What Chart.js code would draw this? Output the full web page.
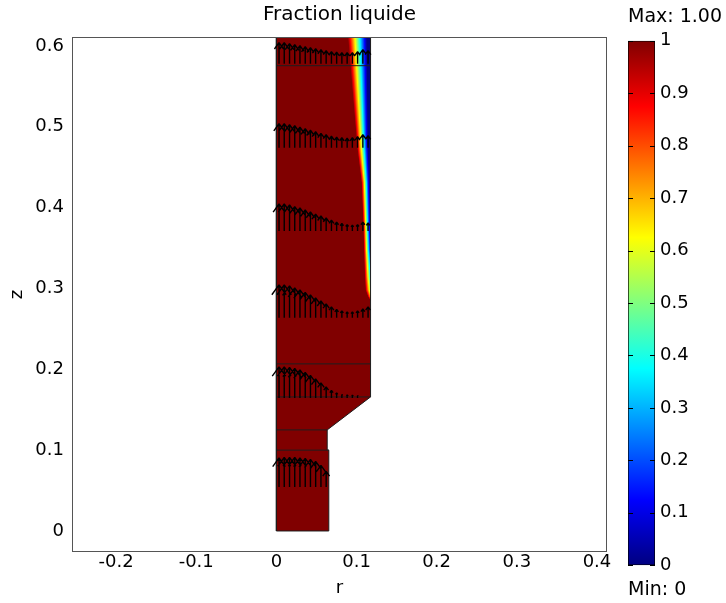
<!DOCTYPE html>
<html>
<head>
<meta charset="utf-8">
<script src="https://cdn.jsdelivr.net/npm/chart.js@4/dist/chart.umd.min.js"></script>
<style>
  html, body { margin: 0; padding: 0; background: #fff; }
  #wrap { position: relative; width: 726px; height: 603px; }
  #plot { position: absolute; left: 0; top: 0; }
  #bar { position: absolute; left: 600px; top: 0; }
</style>
</head>
<body>
<div id="wrap">
  <canvas id="plot" width="726" height="603"></canvas>
  <canvas id="bar" width="126" height="603"></canvas>
</div>
<script>
// axis ticks
const xTicks = [-0.2, -0.1, 0, 0.1, 0.2, 0.3, 0.4];
const zTicks = [0, 0.1, 0.2, 0.3, 0.4, 0.5, 0.6];
const colorTicks = [0, 0.1, 0.2, 0.3, 0.4, 0.5, 0.6, 0.7, 0.8, 0.9, 1];

// domain outline (r, z), from top of axis down and round to the wall
const domainR = [0, 0, 0.0654, 0.0654, 0.0634, 0.0634, 0.1175, 0.1175];
const domainZ = [0.63, 0, 0, 0.1, 0.1, 0.125, 0.1658, 0.63];

// inner boundaries: height and right end
const boundaryZ = [0.1, 0.125, 0.1658, 0.2067, 0.5755];
const boundaryR = [0.0654, 0.0634, 0.1175, 0.1175, 0.1175];

// mushy zone near the wall: fraction 1 at liquidR, 0 at solidR
const frontZ = [0.63, 0.611, 0.475, 0.431, 0.381, 0.348, 0.314, 0.298, 0.29, 0.284];
const liquidR = [0.088, 0.089, 0.1005, 0.106, 0.108, 0.109, 0.110, 0.111, 0.114, 0.1175];
const solidR = [0.112, 0.113, 0.1145, 0.116, 0.117, 0.118, 0.1215, 0.124, 0.125, 0.13];

// velocity arrows
const arrowR = [0.0033, 0.0098, 0.0164, 0.0229, 0.0294, 0.0360, 0.0425, 0.0490, 0.0556,
  0.0621, 0.0687, 0.0752, 0.0817, 0.0883, 0.0948, 0.1013, 0.1079, 0.1144];
const arrowBaseZ = [0.0545, 0.1646, 0.2636, 0.371, 0.474, 0.578];
const arrowLengths = [
  [0.0359, 0.0365, 0.0365, 0.0365, 0.0359, 0.0353, 0.0340, 0.0316, 0.0266, 0.0192],
  [0.0384, 0.0384, 0.0377, 0.0365, 0.0347, 0.0316, 0.0278, 0.0235, 0.0186, 0.0136, 0.0093, 0.0062, 0.0043, 0.0037, 0.0033, 0.0031],
  [0.0408, 0.0408, 0.0396, 0.0371, 0.0347, 0.0316, 0.0285, 0.0248, 0.0210, 0.0173, 0.0136, 0.0105, 0.0087, 0.0074, 0.0074, 0.0087, 0.0111, 0.0136],
  [0.0334, 0.0334, 0.0322, 0.0303, 0.0285, 0.0260, 0.0235, 0.0210, 0.0186, 0.0161, 0.0136, 0.0111, 0.0093, 0.0080, 0.0074, 0.0080, 0.0111, 0.0099],
  [0.0297, 0.0297, 0.0285, 0.0272, 0.0254, 0.0235, 0.0217, 0.0198, 0.0179, 0.0161, 0.0142, 0.0130, 0.0124, 0.0118, 0.0124, 0.0136, 0.0161, 0.0149],
  [0.0260, 0.0260, 0.0248, 0.0235, 0.0223, 0.0210, 0.0198, 0.0186, 0.0173, 0.0161, 0.0149, 0.0142, 0.0136, 0.0136, 0.0136, 0.0149, 0.0173, 0.0161]
];

const jet = [[1, '#800000'], [0.875, '#ff0000'], [0.625, '#ffff00'], [0.375, '#00ffff'], [0.125, '#0000ff'], [0, '#000080']];

Chart.defaults.font.family = '"DejaVu Sans", Verdana, sans-serif';
Chart.defaults.font.size = 18;
Chart.defaults.color = '#000';

const domainPts = domainR.map((r, i) => ({x: r, y: domainZ[i]}));

let edgePts = domainR.map((r, i) => ({x: r, y: domainZ[i]}));
boundaryZ.forEach((z, i) => {
  edgePts.push({x: 0, y: null}, {x: 0, y: z}, {x: boundaryR[i], y: z});
});

let arrowPts = [];
arrowBaseZ.forEach((zb, row) => {
  arrowLengths[row].forEach((len, i) => {
    const r = arrowR[i];
    const tip = zb + len;
    arrowPts.push({x: r, y: zb}, {x: r, y: tip}, {x: r, y: null});
    arrowPts.push({x: r - len * 0.22, y: tip - len * 0.3}, {x: r, y: tip},
      {x: r + len * 0.22, y: tip - len * 0.3}, {x: r, y: null});
  });
});

function lerpAt(zs, vals, z) {
  for (let i = 0; i < zs.length - 1; i++) {
    if (z <= zs[i] && z >= zs[i + 1]) {
      const t = (z - zs[i]) / (zs[i + 1] - zs[i]);
      return vals[i] + t * (vals[i + 1] - vals[i]);
    }
  }
  return null;
}

// liquid fraction band, drawn right after the domain fill
const bandPlugin = {
  id: 'band',
  afterDatasetDraw(chart, args) {
    if (args.index !== 0) return;
    const {ctx, chartArea, scales: {x, y}} = chart;
    const xWall = x.getPixelForValue(domainR[domainR.length - 1]);
    const yStart = Math.max(chartArea.top, Math.floor(y.getPixelForValue(frontZ[0])));
    const yEnd = y.getPixelForValue(frontZ[frontZ.length - 1]);
    ctx.save();
    for (let py = yStart; py < yEnd; py++) {
      const z = y.getValueForPixel(py + 0.5);
      const a = lerpAt(frontZ, liquidR, z);
      const b = lerpAt(frontZ, solidR, z);
      if (a === null) continue;
      const xa = x.getPixelForValue(a);
      const xb = x.getPixelForValue(b);
      if (xa >= xWall) continue;
      const g = ctx.createLinearGradient(xa, 0, xb, 0);
      jet.forEach(([f, c]) => g.addColorStop(1 - f, c));
      ctx.fillStyle = g;
      ctx.fillRect(xa, py, xWall - xa, 1);
    }
    ctx.restore();
  }
};

const framePlugin = {
  id: 'frame',
  afterDatasetsDraw(chart) {
    const {ctx, chartArea: a} = chart;
    ctx.save();
    ctx.strokeStyle = '#555';
    ctx.lineWidth = 1;
    ctx.strokeRect(Math.round(a.left) + 0.5, Math.round(a.top) + 0.5,
      Math.round(a.right - a.left) - 1, Math.round(a.bottom - a.top) - 1);
    ctx.restore();
  }
};

new Chart(document.getElementById('plot'), {
  type: 'scatter',
  data: {
    datasets: [
      {label: 'domain', data: domainPts, showLine: true, fill: 'shape', backgroundColor: '#800000',
        borderColor: 'rgba(0,0,0,0)', borderWidth: 1, order: 3},
      {label: 'edges', data: edgePts, showLine: true, fill: false, borderColor: '#1e1e1e', borderWidth: 1, order: 2},
      {label: 'u', data: arrowPts, showLine: true, fill: false, borderColor: '#000', borderWidth: 1.4, order: 1}
    ]
  },
  options: {
    responsive: false,
    animation: false,
    layout: {padding: {left: 0, right: 119, top: 0, bottom: 0}},
    elements: {point: {radius: 0, hoverRadius: 0}, line: {tension: 0, borderJoinStyle: 'bevel'}},
    plugins: {
      legend: {display: false},
      tooltip: {enabled: false},
      title: {display: true, text: 'Fraction liquide', fullSize: false,
        font: {size: 20, weight: 'normal'}, padding: {top: 3, bottom: 10}}
    },
    scales: {
      x: {
        type: 'linear', min: -0.255, max: 0.4125,
        grid: {display: false, drawTicks: false}, border: {display: false},
        afterBuildTicks: s => { s.ticks = xTicks.map(v => ({value: v})); },
        afterFit: s => { s.height = 51; },
        ticks: {padding: 0, maxRotation: 0, autoSkip: false, callback: v => String(v)},
        title: {display: true, text: 'r', padding: {top: 0, bottom: 4}}
      },
      y: {
        type: 'linear', min: -0.026, max: 0.611,
        grid: {display: false, drawTicks: false}, border: {display: false},
        afterBuildTicks: s => { s.ticks = zTicks.map(v => ({value: v})); },
        afterFit: s => { s.width = 72; },
        ticks: {padding: 8, autoSkip: false, callback: v => String(v)},
        title: {display: true, text: 'z', padding: {top: 7, bottom: 0}}
      }
    }
  },
  plugins: [bandPlugin, framePlugin]
});

// colour bar
function jetGradient(chart) {
  const a = chart.chartArea;
  if (!a) return '#800000';
  const g = chart.ctx.createLinearGradient(0, a.bottom, 0, a.top);
  jet.forEach(([f, c]) => g.addColorStop(f, c));
  return g;
}

const stubPlugin = {
  id: 'stubs',
  afterDatasetsDraw(chart) {
    const {ctx, chartArea: a, scales: {y}} = chart;
    ctx.save();
    ctx.strokeStyle = '#000';
    ctx.lineWidth = 1;
    ctx.beginPath();
    colorTicks.forEach(v => {
      const py = Math.round(y.getPixelForValue(v)) + 0.5;
      ctx.moveTo(a.left, py); ctx.lineTo(a.left + 5, py);
      ctx.moveTo(a.right - 5, py); ctx.lineTo(a.right, py);
    });
    ctx.stroke();
    ctx.restore();
  }
};

new Chart(document.getElementById('bar'), {
  type: 'bar',
  data: {
    labels: [''],
    datasets: [{data: [[0, 1]], backgroundColor: c => jetGradient(c.chart), borderColor: '#000',
      borderWidth: 1, borderSkipped: false, barPercentage: 1, categoryPercentage: 1}]
  },
  options: {
    responsive: false,
    animation: false,
    layout: {padding: {left: 28, right: 0, top: 0, bottom: 0}},
    plugins: {
      legend: {display: false},
      tooltip: {enabled: false},
      title: {display: true, text: 'Max: 1.00', align: 'start', font: {size: 19, weight: 'normal'},
        padding: {top: 6, bottom: 12}},
      subtitle: {display: true, position: 'bottom', text: 'Min: 0', align: 'start', color: '#000',
        font: {size: 19}, padding: {top: 13, bottom: 2}}
    },
    scales: {
      x: {display: false},
      y: {
        position: 'right', min: 0, max: 1,
        grid: {display: false, drawTicks: false}, border: {display: false},
        afterBuildTicks: s => { s.ticks = colorTicks.map(v => ({value: v})); },
        afterFit: s => { s.width = 71; },
        ticks: {padding: 5, autoSkip: false, callback: v => String(v)}
      }
    }
  },
  plugins: [stubPlugin]
});
</script>
</body>
</html>
